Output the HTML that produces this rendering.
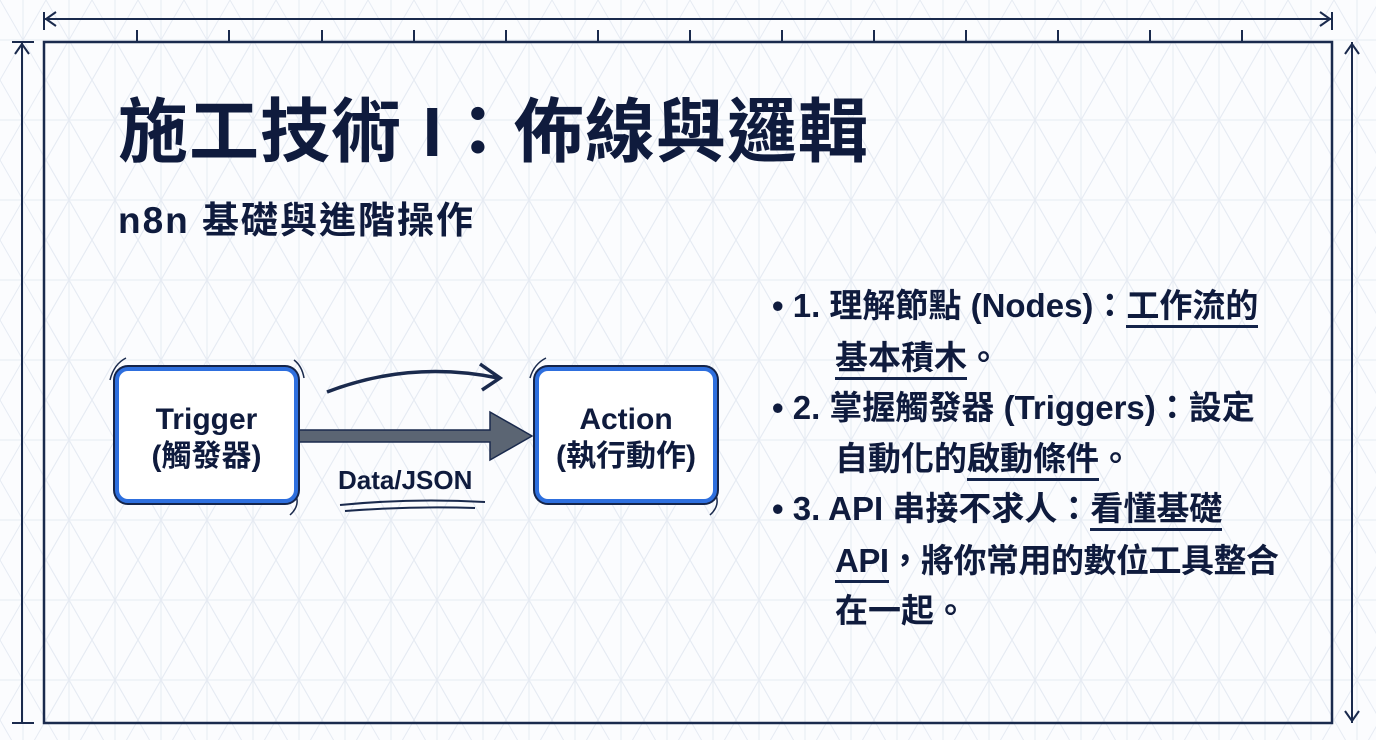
<!DOCTYPE html>
<html><head><meta charset="utf-8"><style>
body{margin:0;width:1376px;height:740px;overflow:hidden;background:#fbfcfe;font-family:"Liberation Sans","Noto Sans CJK TC",sans-serif;color:#0f1b3d;position:relative}
.t{position:absolute;white-space:nowrap;font-weight:bold}
.box{position:absolute;background:#fff;border:4px solid #2e6fde;border-radius:13px;box-shadow:0 0 0 2px #14244a;text-align:center;font-size:30px;font-weight:bold;line-height:37px;box-sizing:border-box;padding-top:30px}
.b{position:absolute;font-size:33px;font-weight:bold;white-space:nowrap;left:772px}
u{text-decoration:none;border-bottom:3px solid #14244a;padding-bottom:1px}
</style></head><body>
<svg width="1376" height="740" style="position:absolute;left:0;top:0">
<defs><pattern id="g" width="46" height="80" patternUnits="userSpaceOnUse">
<path d="M0 0L46 80M46 0L0 80M0 40H46M23 0V80" stroke="#e6ebf3" stroke-width="1" fill="none"/></pattern></defs>
<rect width="1376" height="740" fill="url(#g)"/>
<rect x="44" y="42" width="1288" height="681" fill="url(#g)" stroke="#1a2a4d" stroke-width="2.5"/>
<g stroke="#1a2a4d" stroke-width="2" fill="none">
<path d="M44 12V30M1332 12V30M44 19H1332M56 12L46 19L56 26M1320 12L1330 19L1320 26"/>
<path d="M12 42H34M12 723H34M22 42V723M15 54L22 44L29 54"/>
<path d="M1352 42V723M1345 54L1352 44L1359 54M1345 711L1352 721L1359 711"/>
<path d="M137 30V42M229 30V42M322 30V42M414 30V42M506 30V42M598 30V42M690 30V42M782 30V42M874 30V42M966 30V42M1058 30V42M1150 30V42M1242 30V42"/>
<path d="M327 392Q410 360 498 378M480 364L500 378L482 390" stroke-width="3.5"/>
<path d="M340 505Q410 498 485 502M345 511Q410 506 475 508" stroke-width="2"/>
</g>
<path d="M298 430H490V412L532 436L490 460V442H298Z" fill="#5b6573" stroke="#1a2a4d" stroke-width="1.5"/>
<g stroke="#1a2a4d" stroke-width="1.5" fill="none">
<path d="M110 380Q114 364 126 358M294 360Q302 366 304 378M296 495Q300 506 290 515M530 378Q534 364 546 358M716 495Q720 506 710 515"/>
</g>
</svg>
<div class="t" style="left:118px;top:76px;font-size:70px;letter-spacing:1px">施工技術 I：佈線與邏輯</div>
<div class="t" style="left:118px;top:190px;font-size:37px;letter-spacing:2px">n8n 基礎與進階操作</div>
<div class="box" style="left:115px;top:367px;width:183px;height:136px">Trigger<br>(觸發器)</div>
<div class="box" style="left:535px;top:367px;width:182px;height:136px">Action<br>(執行動作)</div>
<div class="t" style="left:338px;top:465px;font-size:26px">Data/JSON</div>
<div class="b" style="top:279px">• 1. 理解節點 (Nodes)：<u>工作流的</u></div>
<div class="b" style="top:331px;left:835px"><u>基本積木</u>。</div>
<div class="b" style="top:381px">• 2. 掌握觸發器 (Triggers)：設定</div>
<div class="b" style="top:432px;left:835px">自動化的<u>啟動條件</u>。</div>
<div class="b" style="top:482px">• 3. API 串接不求人：<u>看懂基礎</u></div>
<div class="b" style="top:534px;left:835px;letter-spacing:-0.5px"><u>API</u>，將你常用的數位工具整合</div>
<div class="b" style="top:584px;left:835px">在一起。</div>
</body></html>
